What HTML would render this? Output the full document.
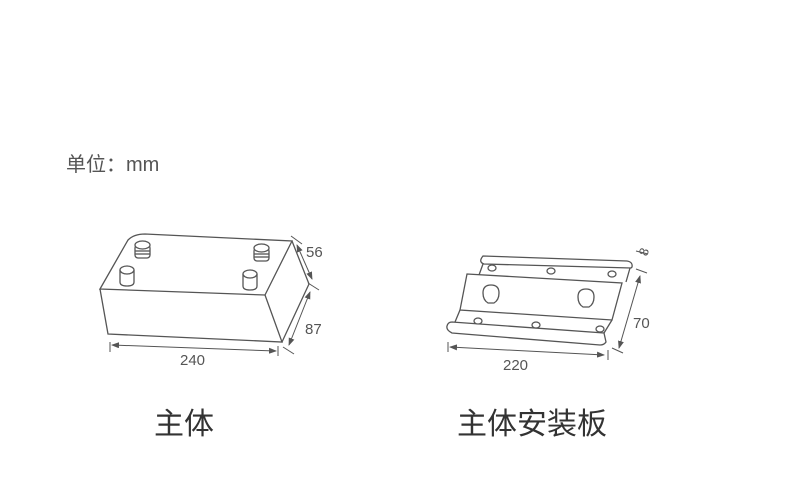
<!DOCTYPE html>
<html><head><meta charset="utf-8"><style>
body{margin:0;background:#fff;width:800px;height:500px;overflow:hidden;position:relative;font-family:"Liberation Sans","Noto Sans CJK SC",sans-serif;color:#444}
.t{position:absolute;white-space:nowrap}
</style></head><body>
<div class="t" style="left:66px;top:148px;font-size:20px;color:#555">单位：mm</div>
<div class="t" style="left:154px;top:399px;font-size:30px;color:#333">主体</div>
<div class="t" style="left:457px;top:399px;font-size:30px;color:#333">主体安装板</div>
<svg width="800" height="500" style="position:absolute;left:0;top:0" fill="none" stroke="#555" stroke-width="1.3" font-family="Liberation Sans, sans-serif">
<defs><marker id="a" markerWidth="8" markerHeight="6" refX="7" refY="3" orient="auto-start-reverse" markerUnits="userSpaceOnUse"><path d="M0,0 L8,3 L0,6 Z" fill="#555" stroke="none"/></marker></defs>
<path d="M100,289 L128,240 Q134,234 145,234 L292,241 L265,295 Z" fill="#fff"/>
<path d="M100,289 L108,334 L282,342 L265,295"/>
<path d="M292,241 L309,284 L282,342"/>
<g fill="#fff">
<rect x="135" y="245" width="15" height="13" rx="3"/><ellipse cx="142.5" cy="245" rx="7.5" ry="4"/>
<line x1="135" y1="251" x2="150" y2="251"/><line x1="135" y1="254" x2="150" y2="254"/>
<rect x="254" y="248" width="15" height="13" rx="3"/><ellipse cx="261.5" cy="248" rx="7.5" ry="4"/>
<line x1="254" y1="254" x2="269" y2="254"/><line x1="254" y1="257" x2="269" y2="257"/>
<path d="M120,270 v12 q0,4 7,4 q7,0 7,-4 v-12"/><ellipse cx="127" cy="270" rx="7" ry="4"/>
<path d="M243,274 v12 q0,4 7,4 q7,0 7,-4 v-12"/><ellipse cx="250" cy="274" rx="7" ry="4"/>
</g>
<g stroke-width="1">
<line x1="297" y1="245" x2="312" y2="279" marker-start="url(#a)" marker-end="url(#a)"/><line x1="291" y1="236" x2="302" y2="244"/><line x1="308" y1="283" x2="319" y2="290"/>
<line x1="310" y1="292" x2="289" y2="345" marker-start="url(#a)" marker-end="url(#a)"/><line x1="283" y1="347" x2="294" y2="354"/>
<line x1="110" y1="342" x2="110" y2="352"/><line x1="278" y1="346" x2="278" y2="356"/>
<line x1="112" y1="345" x2="276" y2="351" marker-start="url(#a)" marker-end="url(#a)"/>
</g>
<g font-size="15" fill="#555" stroke="none">
<text x="306" y="257">56</text><text x="305" y="334">87</text><text x="180" y="365">240</text>
<text x="503" y="370">220</text><text x="633" y="328">70</text>
<text x="638" y="256" transform="rotate(-70 643 250)" font-size="13">8</text>
</g>
<g fill="#fff">
<path d="M483,256 L627,261 Q633,262 632,267 L631,268 L484,264 Q478,262 483,256 Z"/>
<path d="M483,264 L479,275 M630,268 L626,282"/>
<path d="M467,274 L622,283 L612,320 L460,310 Z"/>
<path d="M452,322 L604,333 L606,342 Q604,345 600,345 L452,333 Q446,330 447,326 Q448,322 452,322 Z"/>
<line x1="460" y1="310" x2="455" y2="322"/><line x1="612" y1="320" x2="604" y2="333"/>
<path d="M488,303 q-5,-3 -5,-10 q0,-8 8,-8 q8,0 8,8 q0,7 -5,10 Z" />
<path d="M583,307 q-5,-3 -5,-10 q0,-8 8,-8 q8,0 8,8 q0,7 -5,10 Z" />
<ellipse cx="492" cy="268" rx="4" ry="3"/><ellipse cx="551" cy="271" rx="4" ry="3"/><ellipse cx="612" cy="274" rx="4" ry="3"/>
<ellipse cx="478" cy="321" rx="4" ry="3"/><ellipse cx="536" cy="325" rx="4" ry="3"/><ellipse cx="600" cy="329" rx="4" ry="3"/>
</g>
<g stroke-width="1">
<line x1="640" y1="276" x2="619" y2="348" marker-start="url(#a)" marker-end="url(#a)"/><line x1="636" y1="269" x2="647" y2="273"/><line x1="612" y1="348" x2="623" y2="353"/>
<line x1="636" y1="251" x2="648" y2="254"/>
<line x1="448" y1="342" x2="448" y2="352"/><line x1="608" y1="350" x2="608" y2="360"/>
<line x1="450" y1="347" x2="604" y2="355" marker-start="url(#a)" marker-end="url(#a)"/>
</g>
</svg>
</body></html>
